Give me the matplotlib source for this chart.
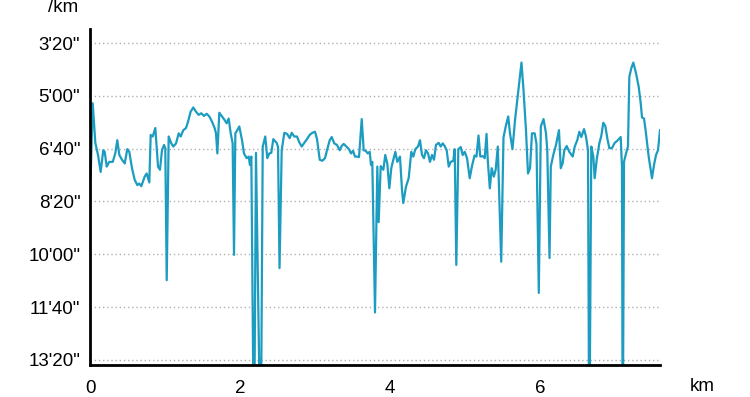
import matplotlib
matplotlib.use("Agg")
import matplotlib.pyplot as plt

plt.rcParams['font.family'] = ['Liberation Sans', 'DejaVu Sans']

# distance (km) and pace (seconds per km); 1000 = off-scale (clipped)
distance_km = [
    0.009, 0.036, 0.071, 0.107, 0.142, 0.177, 0.196, 0.223, 0.257, 0.303, 0.337, 0.364, 0.391,
    0.427, 0.463, 0.497, 0.524, 0.56, 0.596, 0.631, 0.657, 0.684, 0.729, 0.756, 0.791, 0.809,
    0.836, 0.871, 0.889, 0.907, 0.933, 0.96, 0.987, 1.004, 1.023, 1.049, 1.084, 1.111, 1.147,
    1.183, 1.209, 1.244, 1.28, 1.307, 1.342, 1.377, 1.413, 1.449, 1.484, 1.52, 1.556, 1.591,
    1.627, 1.662, 1.68, 1.698, 1.724, 1.76, 1.796, 1.822, 1.849, 1.876, 1.902, 1.92, 1.938,
    1.964, 1.991, 2.027, 2.053, 2.089, 2.116, 2.133, 2.151, 2.187, 2.213, 2.276, 2.303, 2.337,
    2.364, 2.391, 2.417, 2.444, 2.489, 2.507, 2.527, 2.556, 2.591, 2.627, 2.663, 2.689, 2.724,
    2.76, 2.787, 2.823, 2.857, 2.893, 2.929, 2.964, 3.0, 3.027, 3.063, 3.097, 3.133, 3.16,
    3.196, 3.223, 3.257, 3.293, 3.329, 3.356, 3.383, 3.417, 3.453, 3.48, 3.507, 3.533, 3.56,
    3.587, 3.623, 3.649, 3.676, 3.703, 3.729, 3.747, 3.764, 3.8, 3.831, 3.849, 3.876, 3.911,
    3.937, 3.964, 3.991, 4.017, 4.044, 4.071, 4.097, 4.133, 4.16, 4.177, 4.213, 4.249, 4.284,
    4.311, 4.337, 4.373, 4.4, 4.427, 4.453, 4.48, 4.507, 4.533, 4.56, 4.587, 4.613, 4.649,
    4.676, 4.703, 4.729, 4.756, 4.783, 4.809, 4.844, 4.863, 4.884, 4.911, 4.943, 4.969, 4.996,
    5.027, 5.063, 5.093, 5.127, 5.153, 5.18, 5.204, 5.236, 5.263, 5.287, 5.303, 5.331, 5.356,
    5.384, 5.409, 5.437, 5.483, 5.513, 5.543, 5.576, 5.6, 5.633, 5.667, 5.709, 5.753, 5.78,
    5.813, 5.84, 5.867, 5.893, 5.929, 5.953, 5.984, 6.011, 6.047, 6.08, 6.097, 6.127, 6.144,
    6.177, 6.213, 6.253, 6.277, 6.303, 6.324, 6.356, 6.391, 6.436, 6.463, 6.497, 6.524, 6.551,
    6.587, 6.613, 6.64, 6.657, 6.684, 6.711, 6.729, 6.756, 6.791, 6.817, 6.844, 6.871, 6.897,
    6.924, 6.96, 6.996, 7.031, 7.076, 7.093, 7.103, 7.12, 7.147, 7.173, 7.191, 7.217, 7.244,
    7.28, 7.316, 7.343, 7.36, 7.387, 7.413, 7.449, 7.493, 7.52, 7.547, 7.573, 7.6,
]
pace_s = [
    453, 314, 389, 412, 444, 403, 406, 434, 425, 425, 409, 384, 412,
    421, 428, 401, 406, 437, 459, 469, 466, 471, 453, 447, 464, 374,
    377, 361, 399, 434, 440, 403, 393, 399, 649, 377, 390, 396, 390,
    371, 377, 365, 361, 349, 330, 322, 330, 336, 333, 338, 334, 339,
    349, 361, 371, 409, 332, 339, 346, 352, 343, 371, 390, 601, 371,
    365, 358, 384, 409, 418, 415, 431, 415, 1000, 408, 1000, 396, 377,
    418, 409, 408, 382, 389, 397, 626, 403, 370, 372, 380, 370, 377,
    377, 387, 396, 389, 382, 374, 370, 368, 382, 421, 423, 418, 403,
    384, 378, 390, 393, 403, 395, 391, 396, 401, 409, 404, 415, 415,
    416, 344, 403, 404, 409, 406, 431, 425, 710, 434, 539, 433, 440,
    412, 428, 475, 437, 421, 406, 425, 415, 478, 503, 472, 456, 406,
    415, 401, 396, 384, 412, 418, 403, 409, 425, 412, 421, 393, 389,
    396, 390, 395, 403, 434, 425, 423, 401, 620, 401, 397, 412, 406,
    418, 456, 433, 413, 415, 375, 415, 414, 418, 372, 421, 475, 437,
    453, 440, 396, 614, 379, 358, 339, 371, 401, 346, 292, 237, 289,
    365, 447, 437, 371, 371, 391, 673, 358, 344, 371, 403, 607, 434,
    412, 393, 365, 437, 427, 403, 395, 406, 415, 396, 384, 368, 378,
    363, 377, 403, 1000, 396, 415, 456, 421, 390, 376, 351, 357, 380,
    399, 399, 389, 385, 378, 434, 1000, 425, 409, 396, 264, 248, 237,
    257, 283, 314, 341, 343, 371, 415, 456, 431, 412, 403, 365,
]

y_ticks = [200, 300, 400, 500, 600, 700, 800]
y_tick_labels = ["3'20\"", "5'00\"", "6'40\"", "8'20\"", "10'00\"", "11'40\"", "13'20\""]
x_ticks = [0, 2, 4, 6]
x_tick_labels = ["0", "2", "4", "6"]

fig = plt.figure(figsize=(7.5, 3.97), dpi=100)
ax = fig.add_axes([90 / 750, 1 - 365 / 397, 570 / 750, 336 / 397])

ax.plot(distance_km, pace_s, color='#1c9cc0', lw=1.6, solid_joinstyle='round')

ax.set_xlim(0, 7.6)
ax.set_ylim(809.5, 173.5)

ax.set_yticks(y_ticks)
ax.set_yticklabels(y_tick_labels)
ax.set_xticks(x_ticks)
ax.set_xticklabels(x_tick_labels)

ax.tick_params(axis='both', length=0, labelsize=13.5, colors='black')
ax.tick_params(axis='y', pad=7)
ax.tick_params(axis='x', pad=11)

ax.yaxis.grid(True, color='#b0b0b0', linestyle=(0, (1, 2)), lw=1)
ax.xaxis.grid(False)
ax.set_axisbelow(True)

for s in ['top', 'right']:
    ax.spines[s].set_visible(False)
for s in ['left', 'bottom']:
    ax.spines[s].set_color('black')
    ax.spines[s].set_linewidth(2)

fig.text(78 / 750, 1 - 12 / 397, "/km", ha='right', va='baseline', fontsize=13.5)
fig.text(690 / 750, 1 - 391 / 397, "km", ha='left', va='baseline', fontsize=13.5)

fig.savefig("out.png", dpi=100)
